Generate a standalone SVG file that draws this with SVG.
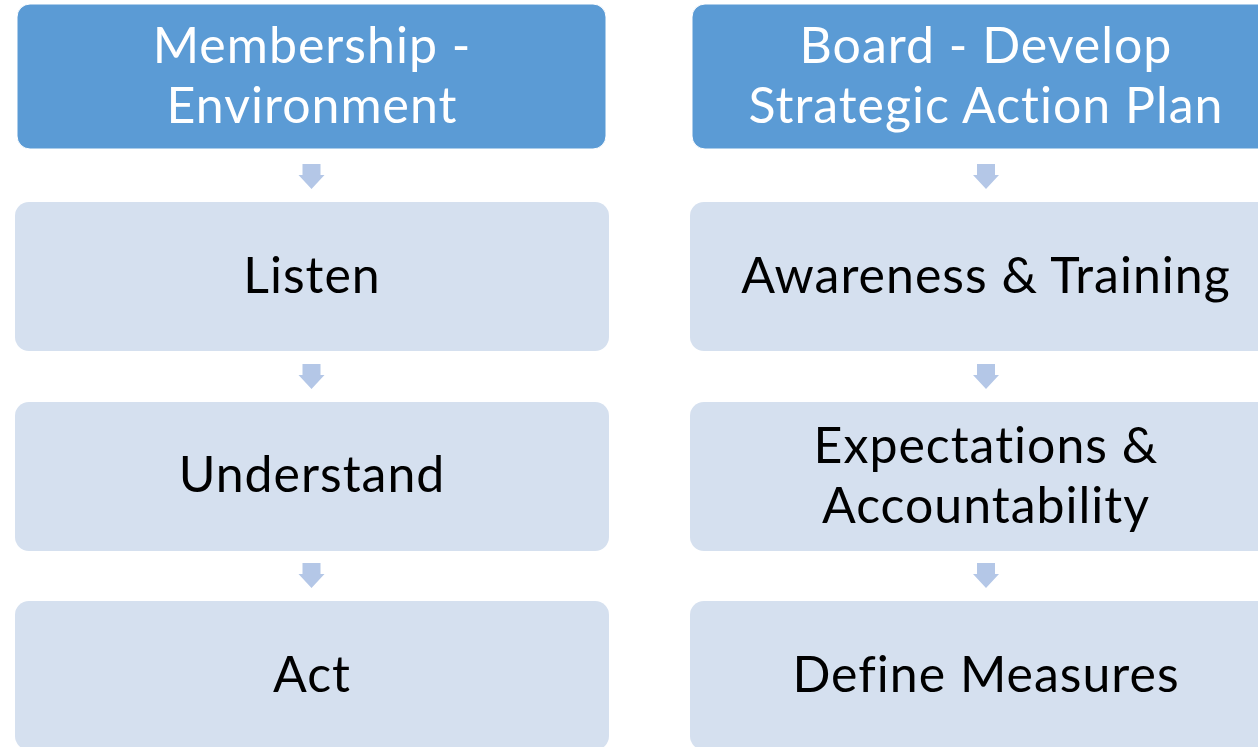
<svg xmlns="http://www.w3.org/2000/svg" width="1258" height="747" viewBox="0 0 1258 747">
<style>
.hdr{fill:#5b9bd5;stroke:#ffffff;stroke-width:1}
.box{fill:#d5e0ef}
.arr{fill:#b4c7e7}
text{font-family:Lato,"Open Sans","Liberation Sans",sans-serif;font-size:50px;letter-spacing:1px;text-anchor:middle}
.w{fill:#ffffff}
.k{fill:#000000}
</style>
<defs>
<path id="ar" d="M-9,0 H9 V11 H13 L0,25 L-13,11 H-9 Z"/>
</defs>
<rect width="1258" height="747" fill="#ffffff"/>
<g id="connectors">
<use href="#ar" class="arr" x="311.5" y="164"/>
<use href="#ar" class="arr" x="311.5" y="364"/>
<use href="#ar" class="arr" x="311.5" y="563"/>
<use href="#ar" class="arr" x="986" y="164"/>
<use href="#ar" class="arr" x="986" y="364"/>
<use href="#ar" class="arr" x="986" y="563"/>
</g>
<g id="n-membership">
<rect class="hdr" x="17" y="4" width="589" height="145" rx="13"/>
<text class="w" x="312" y="63">Membership -</text>
<text class="w" x="312" y="123">Environment</text>
</g>
<g id="n-listen">
<rect class="box" x="15" y="202" width="594" height="149" rx="14"/>
<text class="k" x="312" y="293">Listen</text>
</g>
<g id="n-understand">
<rect class="box" x="15" y="402" width="594" height="149" rx="14"/>
<text class="k" x="312" y="492">Understand</text>
</g>
<g id="n-act">
<rect class="box" x="15" y="601" width="594" height="149" rx="14"/>
<text class="k" x="312" y="692">Act</text>
</g>
<g id="n-board">
<rect class="hdr" x="692" y="4" width="589" height="145" rx="13"/>
<text class="w" x="986" y="63">Board - Develop</text>
<text class="w" x="986" y="123">Strategic Action Plan</text>
</g>
<g id="n-awareness">
<rect class="box" x="690" y="202" width="594" height="149" rx="14"/>
<text class="k" x="986" y="293">Awareness &amp; Training</text>
</g>
<g id="n-expectations">
<rect class="box" x="690" y="402" width="594" height="149" rx="14"/>
<text class="k" x="986" y="463">Expectations &amp;</text>
<text class="k" x="986" y="523">Accountability</text>
</g>
<g id="n-measures">
<rect class="box" x="690" y="601" width="594" height="149" rx="14"/>
<text class="k" x="986" y="692">Define Measures</text>
</g>
</svg>
